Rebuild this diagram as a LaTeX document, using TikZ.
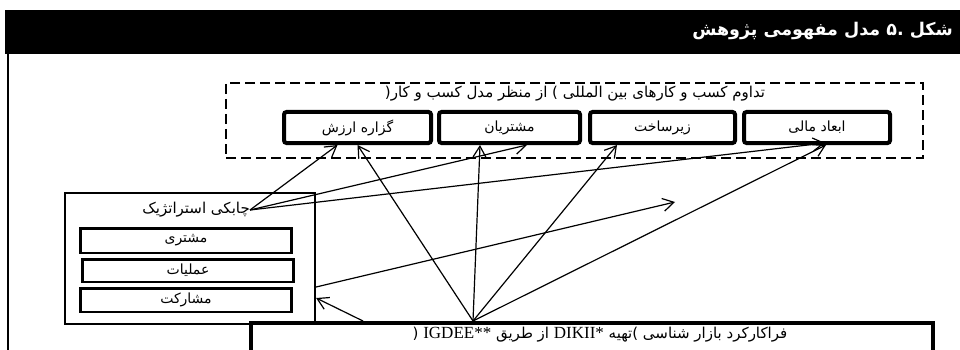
\documentclass[tikz,border=0pt]{standalone}
\usepackage{fontspec}
\usetikzlibrary{arrows.meta}
\TeXXeTstate=1
\newfontfamily\fa[Script=Arabic]{DejaVu Sans}
\newfontfamily\lat{Liberation Serif}
\newcommand\myRL[1]{\beginR #1\endR}
\tikzset{
  titlebar/.style={fill=black, minimum width=955pt, minimum height=44pt, inner sep=0pt},
  titletext/.style={text=white, font=\fa\bfseries\fontsize{17.5}{20}\selectfont, anchor=east, inner sep=0pt},
  framebox/.style={draw, dash pattern=on 10pt off 5pt, line width=2.4pt, minimum width=697pt, minimum height=75pt, inner sep=0pt},
  dimbox/.style={draw, line width=4pt, rounded corners=2.5pt, minimum height=31pt, inner sep=0pt, font=\fa\fontsize{14}{16}\selectfont},
  stratbox/.style={draw, line width=2.2pt, minimum width=250pt, minimum height=131pt, inner sep=0pt},
  subbox/.style={draw, line width=2.5pt, minimum width=211pt, inner sep=0pt, font=\fa\fontsize{14}{16}\selectfont},
  marketbox/.style={draw, line width=4pt, minimum width=682pt, minimum height=60pt, inner sep=0pt},
  lbl/.style={font=\fa\fontsize{15}{17}\selectfont, inner sep=0pt},
  arr/.style={line width=1.2pt, -{Straight Barb[length=11pt,width=13pt]}},
}
\begin{document}
\begin{tikzpicture}[x=1pt,y=-1pt]
\useasboundingbox (0,0) rectangle (960,350);
% title bar
\node[titlebar] (titlebar) at (482.5,32) {};
\node[titletext] (titletext) at (953,31) {\myRL{مدل مفهومی پژوهش} .۵ \myRL{شکل}};
\draw[line width=2pt] (8,54) -- (8,352);
% business continuity frame
\node[framebox] (bcm) at (574.5,120.5) {};
\node[lbl] (bcmtitle) at (575,94) {(\myRL{از منظر مدل کسب و کار}\ ) \myRL{تداوم کسب و کارهای بین المللی}};
\node[dimbox, minimum width=147pt] (value) at (357.5,127.5) {\myRL{گزاره ارزش}};
\node[dimbox, minimum width=141pt] (cust) at (509.5,127.5) {\myRL{مشتریان}};
\node[dimbox, minimum width=145pt] (infra) at (662.5,127.5) {\myRL{زیرساخت}};
\node[dimbox, minimum width=146pt] (fin) at (817,127.5) {\myRL{ابعاد مالی}};
% strategic agility
\node[stratbox] (strat) at (190,258.5) {};
\node[lbl, anchor=east] (stitle) at (250,210) {\myRL{چابکی استراتژیک}};
\node[subbox, minimum height=24.5pt] (sub1) at (186,240.5) {\myRL{مشتری}};
\node[subbox, minimum height=22.5pt] (sub2) at (188,270.5) {\myRL{عملیات}};
\node[subbox, minimum height=23.5pt] (sub3) at (186,300) {\myRL{مشارکت}};
% marketing box
\node[marketbox] (market) at (592,353) {};
\node[lbl] (mtext) at (600,335) {( {\lat\fontsize{17}{20}\selectfont IGDEE**} \myRL{از طریق} {\lat\fontsize{17}{20}\selectfont DIKII*} \myRL{تهیه}) \myRL{فراکارکرد بازار شناسی}};
\coordinate (hub) at ([xshift=-119pt]market.north);
\coordinate (free) at (675,202);
% arrows from strategic agility
\draw[arr] (stitle.east) -- ([xshift=-20pt]value.south);
\draw[arr] (stitle.east) -- ([xshift=17.5pt]cust.south);
\draw[arr] (stitle.east) -- ([xshift=8pt,yshift=2pt]fin.south);
\draw[arr] ([yshift=-28.5pt]strat.east) -- (free);
% arrows from marketing hub
\draw[arr] (hub) -- (value.south);
\draw[arr] (hub) -- ([xshift=-29.5pt]cust.south);
\draw[arr] (hub) -- ([xshift=-45.5pt]infra.south);
\draw[arr] (hub) -- ([xshift=9pt]fin.south);
\draw[arr] ([xshift=-229pt]market.north) -- ([yshift=-39.5pt]strat.east);
\end{tikzpicture}
\end{document}
